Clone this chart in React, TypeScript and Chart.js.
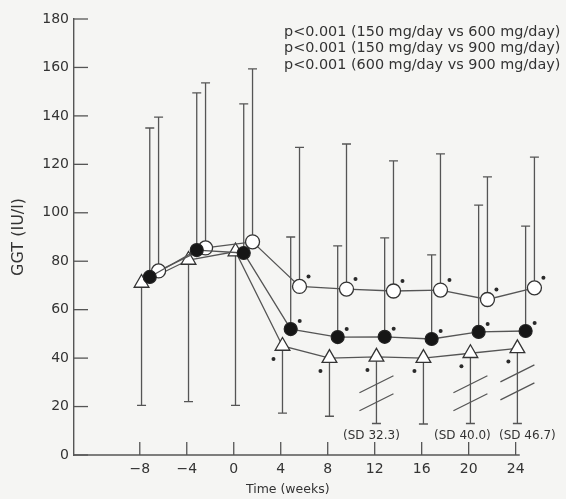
import React, { useEffect, useRef } from "react";
import { Chart, registerables } from "chart.js";

Chart.register(...registerables);

// ---- data ----
const weeks = [-8, -4, 0, 4, 8, 12, 16, 20, 24];
const xTickValues = [-8, -4, 0, 4, 8, 12, 16, 20, 24];
const yTickValues = [0, 20, 40, 60, 80, 100, 120, 140, 160, 180];
const xAxisEnd = 24.35;

// triangles (lowest series), error bars drawn downward
const triangleMean = [71, 80.5, 84, 45, 40, 40.5, 40, 42, 44];
const triangleLow = [20.5, 22, 20.5, 17.3, 16, 13, 12.8, 13, 13];
const triangleBreak = [null, null, null, null, null, 25.5, null, 25.5, 30];

// filled circles, error bars drawn upward
const filledMean = [73.5, 84.6, 83.4, 52, 48.7, 48.8, 47.9, 50.8, 51.2];
const filledHigh = [135, 149.5, 145, 90, 86.3, 89.6, 82.6, 103.2, 94.5];

// open circles, error bars drawn upward
const openMean = [76, 85.5, 88, 69.6, 68.5, 67.7, 68.1, 64.2, 69];
const openHigh = [139.5, 153.6, 159.4, 127, 128.4, 121.4, 124.3, 114.8, 123];

// significance stars shown from week 4 on
const starFlags = [false, false, false, true, true, true, true, true, true];

const sdNoteWeeks = [12, 20, 24];
const sdNoteTexts = ["(SD 32.3)", "(SD 40.0)", "(SD 46.7)"];

const pTexts = [
  "p<0.001 (150 mg/day vs 600 mg/day)",
  "p<0.001 (150 mg/day vs 900 mg/day)",
  "p<0.001 (600 mg/day vs 900 mg/day)",
];

const yTitle = "GGT (IU/l)";
const xTitle = "Time (weeks)";

// ---- styles ----
const INK = "#333333";
const LINE = "#555555";
const BG = "#f5f5f3";
const FONT = "'DejaVu Sans', sans-serif";

const OFF_TRI = 0.15;
const OFF_FILLED = 0.85;
const OFF_OPEN = 1.6;

export default function App() {
  const ref = useRef<HTMLCanvasElement | null>(null);

  useEffect(() => {
    document.body.style.margin = "0";
    const canvas = ref.current;
    if (!canvas) return;

    const decor = {
      id: "decor",
      beforeDraw(chart: any) {
        const ctx = chart.ctx;
        ctx.save();
        ctx.fillStyle = BG;
        ctx.fillRect(0, 0, chart.width, chart.height);
        ctx.restore();
      },
      beforeDatasetsDraw(chart: any) {
        const ctx = chart.ctx;
        const xs = chart.scales.x;
        const ys = chart.scales.y;
        const area = chart.chartArea;
        ctx.save();
        ctx.strokeStyle = LINE;
        ctx.lineWidth = 1.4;

        // x axis line (ends a little after the last tick)
        ctx.beginPath();
        ctx.moveTo(area.left, area.bottom);
        ctx.lineTo(xs.getPixelForValue(xAxisEnd), area.bottom);
        ctx.stroke();

        ctx.lineWidth = 1.3;
        // inward tick marks
        xTickValues.forEach((v) => {
          const px = xs.getPixelForValue(v);
          ctx.beginPath();
          ctx.moveTo(px, area.bottom);
          ctx.lineTo(px, area.bottom - 13);
          ctx.stroke();
        });
        yTickValues.forEach((v) => {
          const py = ys.getPixelForValue(v);
          ctx.beginPath();
          ctx.moveTo(area.left, py);
          ctx.lineTo(area.left + 14, py);
          ctx.stroke();
        });

        // error bars
        const bar = (dsIndex: number, ends: number[]) => {
          const meta = chart.getDatasetMeta(dsIndex);
          meta.data.forEach((pt: any, i: number) => {
            const yEnd = ys.getPixelForValue(ends[i]);
            ctx.beginPath();
            ctx.moveTo(pt.x, pt.y);
            ctx.lineTo(pt.x, yEnd);
            ctx.moveTo(pt.x - 4.5, yEnd);
            ctx.lineTo(pt.x + 4.5, yEnd);
            ctx.stroke();
          });
        };
        bar(0, filledHigh);
        bar(1, openHigh);
        bar(2, triangleLow);

        // break marks on the triangle bars
        const triMeta = chart.getDatasetMeta(2);
        triMeta.data.forEach((pt: any, i: number) => {
          const b = triangleBreak[i];
          if (b == null) return;
          const cy = ys.getPixelForValue(b);
          [-9, 9].forEach((dy) => {
            ctx.beginPath();
            ctx.moveTo(pt.x - 17, cy + dy + 8.5);
            ctx.lineTo(pt.x + 17, cy + dy - 8.5);
            ctx.stroke();
          });
        });

        // SD notes
        ctx.fillStyle = INK;
        ctx.font = `12px ${FONT}`;
        ctx.textAlign = "center";
        ctx.textBaseline = "middle";
        const noteDx = [-5, -8, 10];
        sdNoteWeeks.forEach((w, k) => {
          ctx.fillText(sdNoteTexts[k], xs.getPixelForValue(w + OFF_TRI) + noteDx[k], ys.getPixelForValue(8));
        });

        // p-value texts
        ctx.font = `14.4px ${FONT}`;
        ctx.textAlign = "left";
        pTexts.forEach((t, k) => {
          ctx.fillText(t, 284, 32 + k * 16.5);
        });
        ctx.restore();
      },
      afterDatasetsDraw(chart: any) {
        const ctx = chart.ctx;
        ctx.save();
        ctx.fillStyle = "#2a2a2a";
        const stars = (dsIndex: number, dx: number, dy: number) => {
          const meta = chart.getDatasetMeta(dsIndex);
          meta.data.forEach((pt: any, i: number) => {
            if (!starFlags[i]) return;
            ctx.beginPath();
            ctx.arc(pt.x + dx, pt.y + dy, 2, 0, Math.PI * 2);
            ctx.fill();
          });
        };
        stars(0, 9, -8);
        stars(1, 9, -10);
        stars(2, -9, 13);

        // x axis title
        const area = chart.chartArea;
        ctx.fillStyle = INK;
        ctx.font = `12.5px ${FONT}`;
        ctx.textAlign = "center";
        ctx.textBaseline = "middle";
        ctx.fillText(xTitle, chart.scales.x.getPixelForValue(4.6), area.bottom + 35);
        ctx.restore();
      },
    };

    const pts = (means: number[], off: number) => means.map((m, i) => ({ x: weeks[i] + off, y: m }));

    const chart = new Chart(canvas, {
      type: "line",
      data: {
        datasets: [
          {
            label: "filled",
            data: pts(filledMean, OFF_FILLED),
            borderColor: LINE,
            borderWidth: 1.3,
            pointStyle: "circle",
            pointRadius: 6.5,
            pointBackgroundColor: "#161616",
            pointBorderColor: "#222",
            pointBorderWidth: 1.2,
            clip: false,
          },
          {
            label: "open",
            data: pts(openMean, OFF_OPEN),
            borderColor: LINE,
            borderWidth: 1.3,
            pointStyle: "circle",
            pointRadius: 7,
            pointBackgroundColor: "#ffffff",
            pointBorderColor: "#333",
            pointBorderWidth: 1.3,
            clip: false,
          },
          {
            label: "triangle",
            data: pts(triangleMean, OFF_TRI),
            borderColor: LINE,
            borderWidth: 1.3,
            pointStyle: "triangle",
            pointRadius: 8.5,
            pointBackgroundColor: "#ffffff",
            pointBorderColor: "#333",
            pointBorderWidth: 1.3,
            clip: false,
          },
        ],
      } as any,
      options: {
        responsive: false,
        animation: false,
        devicePixelRatio: 1,
        layout: { padding: { left: 0, right: 21, top: 19, bottom: 0 } },
        plugins: { legend: { display: false }, tooltip: { enabled: false } },
        elements: { line: { tension: 0 } },
        scales: {
          x: {
            type: "linear",
            min: -13.6,
            max: 26.5,
            afterFit: (s: any) => {
              s.height = 44;
            },
            afterBuildTicks: (s: any) => {
              s.ticks = xTickValues.map((v) => ({ value: v }));
            },
            grid: { display: false, drawTicks: false },
            border: { display: false },
            ticks: {
              color: INK,
              font: { family: FONT, size: 14 },
              padding: 6,
              maxRotation: 0,
              autoSkip: false,
              callback: (v: any) => (Number(v) < 0 ? "\u2212" + Math.abs(Number(v)) : String(v)),
            },
          },
          y: {
            type: "linear",
            min: 0,
            max: 180,
            afterFit: (s: any) => {
              s.width = 74;
            },
            afterBuildTicks: (s: any) => {
              s.ticks = yTickValues.map((v) => ({ value: v }));
            },
            grid: { display: false, drawTicks: false },
            border: { display: true, color: LINE, width: 1.4 },
            ticks: {
              color: INK,
              font: { family: FONT, size: 14 },
              padding: 5,
            },
            title: {
              display: true,
              text: yTitle,
              color: INK,
              font: { family: FONT, size: 16 },
              padding: { top: 9, bottom: 0 },
            },
          },
        },
      } as any,
      plugins: [decor],
    });

    return () => chart.destroy();
  }, []);

  return (
    <div style={{ position: "fixed", left: 0, top: 0, width: 566, height: 499 }}>
      <canvas ref={ref} width={566} height={499} style={{ width: 566, height: 499, display: "block" }} />
    </div>
  );
}
